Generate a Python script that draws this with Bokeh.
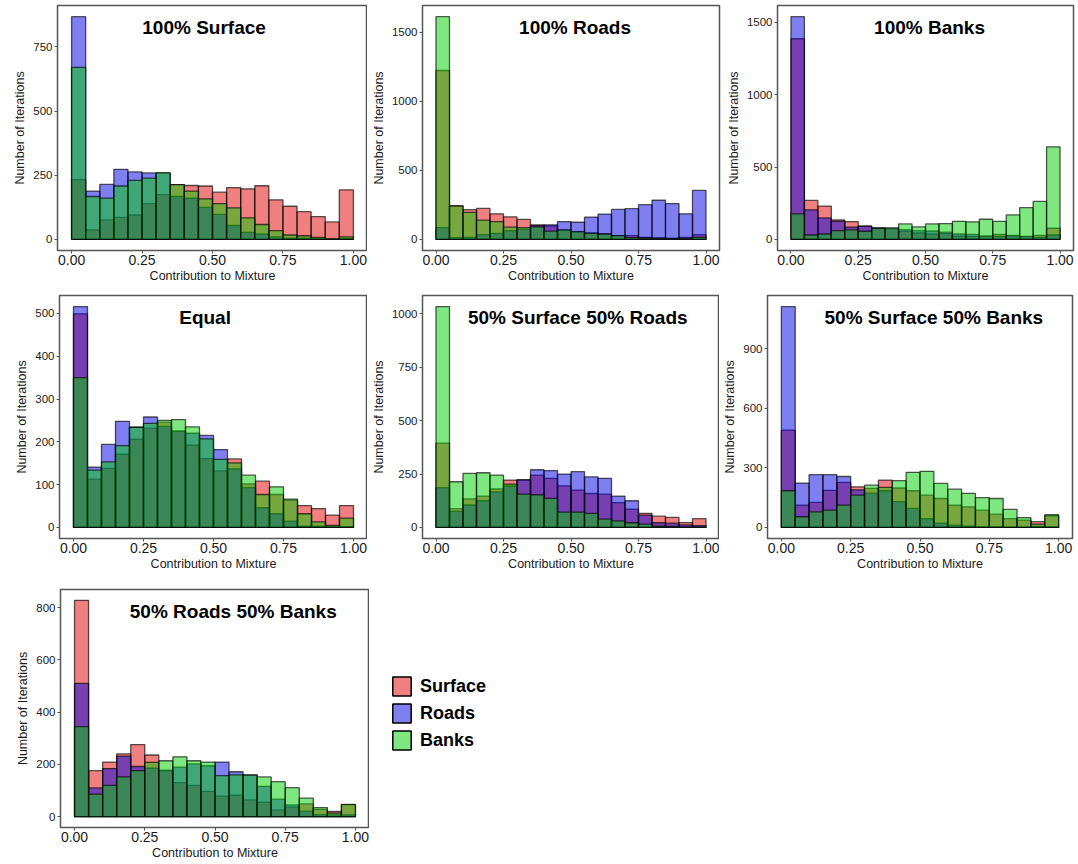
from bokeh.plotting import figure
from bokeh.layouts import column, row
from bokeh.models import (ColumnDataSource, FixedTicker, NumeralTickFormatter,
                          Range1d, Label, Legend, LegendItem)
from bokeh.embed import file_html
from bokeh.resources import INLINE

# ---------------- data ----------------
bin_left = [0.00, 0.05, 0.10, 0.15, 0.20, 0.25, 0.30, 0.35, 0.40, 0.45,
            0.50, 0.55, 0.60, 0.65, 0.70, 0.75, 0.80, 0.85, 0.90, 0.95]
bin_right = [0.05, 0.10, 0.15, 0.20, 0.25, 0.30, 0.35, 0.40, 0.45, 0.50,
             0.55, 0.60, 0.65, 0.70, 0.75, 0.80, 0.85, 0.90, 0.95, 1.00]

series_names = ["Surface", "Roads", "Banks"]
series_colors = ["#E20000", "#0000E4", "#00D000"]

# 100% Surface
s100_surface = [233, 37, 76, 86, 95, 139, 174, 213, 210, 208, 184, 202, 197, 209, 154, 129, 108, 89, 68, 193]
s100_roads = [868, 188, 214, 273, 263, 259, 258, 167, 161, 125, 97, 54, 27, 21, 10, 5, 5, 3, 1, 3]
s100_banks = [670, 167, 161, 208, 230, 239, 260, 213, 188, 158, 139, 123, 84, 58, 34, 17, 14, 8, 2, 10]

# 100% Roads
r100_surface = [1222, 244, 215, 224, 185, 163, 144, 105, 98, 66, 54, 46, 40, 27, 27, 15, 10, 8, 15, 34]
r100_roads = [85, 12, 15, 34, 44, 63, 73, 100, 105, 129, 124, 161, 183, 217, 222, 251, 283, 259, 185, 354]
r100_banks = [1612, 240, 195, 139, 129, 88, 85, 90, 59, 68, 56, 44, 39, 27, 12, 10, 8, 5, 5, 15]

# 100% Banks
b100_surface = [1387, 269, 230, 134, 123, 93, 78, 74, 56, 44, 37, 42, 23, 21, 23, 35, 22, 19, 28, 77]
b100_roads = [1540, 204, 148, 125, 85, 90, 80, 76, 67, 60, 58, 50, 37, 35, 23, 21, 28, 21, 14, 30]
b100_banks = [176, 30, 37, 60, 65, 56, 76, 79, 107, 86, 107, 109, 125, 121, 139, 125, 169, 220, 262, 640]

# Equal
eq_surface = [499, 113, 138, 171, 206, 232, 246, 225, 192, 161, 132, 160, 102, 108, 77, 64, 51, 44, 29, 51]
eq_roads = [516, 141, 194, 248, 234, 258, 236, 225, 220, 215, 182, 137, 93, 46, 32, 15, 3, 3, 2, 2]
eq_banks = [350, 134, 153, 191, 234, 243, 250, 252, 235, 207, 159, 151, 122, 77, 95, 66, 32, 13, 5, 22]

# 50% Surface 50% Roads
sr_surface = [395, 88, 134, 147, 180, 222, 222, 245, 230, 195, 175, 159, 156, 116, 86, 66, 53, 47, 23, 41]
sr_roads = [186, 75, 105, 125, 167, 194, 224, 270, 266, 250, 261, 237, 230, 147, 125, 58, 22, 20, 12, 9]
sr_banks = [1034, 214, 253, 256, 245, 203, 156, 153, 136, 72, 72, 66, 39, 31, 22, 16, 6, 5, 2, 2]

# 50% Surface 50% Banks
sb_surface = [491, 113, 126, 187, 227, 205, 197, 239, 199, 185, 163, 146, 113, 104, 87, 67, 45, 37, 29, 59]
sb_roads = [1114, 224, 266, 266, 257, 190, 173, 185, 130, 96, 44, 22, 12, 7, 3, 3, 2, 2, 5, 3]
sb_banks = [185, 54, 79, 87, 113, 163, 213, 202, 236, 278, 283, 222, 193, 172, 150, 146, 91, 50, 17, 64]

# 50% Roads 50% Banks
rb_surface = [828, 176, 209, 240, 276, 236, 175, 130, 120, 97, 79, 82, 64, 56, 26, 37, 49, 28, 20, 46]
rb_roads = [510, 110, 184, 232, 192, 186, 178, 190, 202, 195, 209, 172, 160, 116, 67, 45, 21, 8, 7, 7]
rb_banks = [345, 86, 120, 152, 176, 208, 214, 229, 214, 209, 157, 160, 159, 152, 134, 111, 71, 35, 14, 47]

x_ticks = [0.0, 0.25, 0.5, 0.75, 1.0]

FONT = "Liberation Sans"


def make_panel(title, series, yticks, title_x, fw, fh, mbl, mbr, mbt, mbb):
    ymax = max(max(s) for s in series)
    y0, y1 = -0.05 * ymax, 1.05 * ymax
    p = figure(frame_width=fw, frame_height=fh, x_range=Range1d(-0.05, 1.05),
               y_range=Range1d(y0, y1), toolbar_location=None,
               output_backend="svg", min_border_left=mbl, min_border_right=mbr,
               min_border_top=mbt, min_border_bottom=mbb)
    sources = []
    for vals, col in zip(series, series_colors):
        src = ColumnDataSource(dict(left=bin_left, right=bin_right, top=vals,
                                    bottom=[0] * len(vals)))
        sources.append(src)
        p.quad(left="left", right="right", top="top", bottom="bottom", source=src,
               fill_color=col, fill_alpha=0.5, line_color="black",
               line_alpha=0.65, line_width=1.3)
    p.grid.visible = False
    p.outline_line_color = "#555555"
    p.outline_line_width = 1.5
    p.background_fill_color = "white"
    p.xaxis.ticker = FixedTicker(ticks=x_ticks)
    p.xaxis.formatter = NumeralTickFormatter(format="0.00")
    p.yaxis.ticker = FixedTicker(ticks=yticks)
    p.xaxis.axis_label = "Contribution to Mixture"
    p.yaxis.axis_label = "Number of Iterations"
    for ax in (p.xaxis[0], p.yaxis[0]):
        ax.axis_line_color = None
        ax.major_tick_in = 0
        ax.major_tick_out = 3
        ax.major_tick_line_color = "#555555"
        ax.minor_tick_line_color = None
        ax.major_label_text_font = FONT
        ax.major_label_text_color = "#1a1a1a"
        ax.axis_label_text_font = FONT
        ax.axis_label_text_font_size = "12.5px"
        ax.axis_label_text_font_style = "normal"
        ax.axis_label_text_color = "#1a1a1a"
    p.xaxis.major_label_text_font_size = "14px"
    p.yaxis.major_label_text_font_size = "11.5px"
    p.xaxis.major_label_standoff = 1
    p.xaxis.axis_label_standoff = 1
    p.yaxis.major_label_standoff = 2
    p.yaxis.axis_label_standoff = 3
    ty = y1 - 22 * (y1 - y0) / fh
    p.add_layout(Label(x=title_x, y=ty, text=title, text_font=FONT,
                       text_font_size="19px", text_font_style="bold",
                       text_align="center", text_baseline="middle",
                       text_color="black"))
    return p, sources


p1, _ = make_panel("100% Surface", [s100_surface, s100_roads, s100_banks],
                   [0, 250, 500, 750], 0.47, 310, 245, 57, 0, 5, 34)
p2, _ = make_panel("100% Roads", [r100_surface, r100_roads, r100_banks],
                   [0, 500, 1000, 1500], 0.515, 297, 245, 55, 3, 5, 34)
p3, _ = make_panel("100% Banks", [b100_surface, b100_roads, b100_banks],
                   [0, 500, 1000, 1500], 0.515, 296, 245, 55, 2, 5, 34)

p4, _ = make_panel("Equal", [eq_surface, eq_roads, eq_banks],
                   [0, 100, 200, 300, 400, 500], 0.47, 308, 243, 59, 0, 10, 34)
p5, _ = make_panel("50% Surface 50% Roads", [sr_surface, sr_roads, sr_banks],
                   [0, 250, 500, 750, 1000], 0.525, 297, 243, 55, 0, 10, 34)
p6, _ = make_panel("50% Surface 50% Banks", [sb_surface, sb_roads, sb_banks],
                   [0, 300, 600, 900], 0.55, 305, 243, 48, 3, 10, 34)

p7, src7 = make_panel("50% Roads 50% Banks", [rb_surface, rb_roads, rb_banks],
                      [0, 200, 400, 600, 800], 0.565, 309, 238, 60, 0, 16, 35)

# legend canvas (keys use hidden copies of the panel-7 series)
pl = figure(frame_width=706, frame_height=238, x_range=Range1d(0, 1),
            y_range=Range1d(0, 1), toolbar_location=None, output_backend="svg",
            min_border_left=0, min_border_right=0, min_border_bottom=35,
            min_border_top=16, x_axis_location=None, y_axis_location=None)
pl.grid.visible = False
pl.outline_line_color = None
items = []
for name, col, src in zip(series_names, series_colors, src7):
    r = pl.quad(left="left", right="right", top="top", bottom="bottom",
                source=src, fill_color=col, fill_alpha=0.5, line_color="black",
                line_width=1.5, visible=False)
    items.append(LegendItem(label=name, renderers=[r]))
legend = Legend(items=items, location=(21, 75), glyph_width=23, glyph_height=24,
                spacing=3, padding=0, margin=0, label_standoff=7,
                label_text_font=FONT, label_text_font_size="18px",
                label_text_font_style="bold", label_text_color="black",
                border_line_color=None, background_fill_alpha=0)
pl.add_layout(legend)
pl.add_layout(Label(x=0.159, y=0.0, text=".", text_font=FONT,
                    text_font_size="14px", text_color="#222222",
                    text_align="center", text_baseline="alphabetic"))

layout = column(row(p1, p2, p3), row(p4, p5, p6), row(p7, pl))

open("out.html", "w").write(file_html(layout, INLINE))
